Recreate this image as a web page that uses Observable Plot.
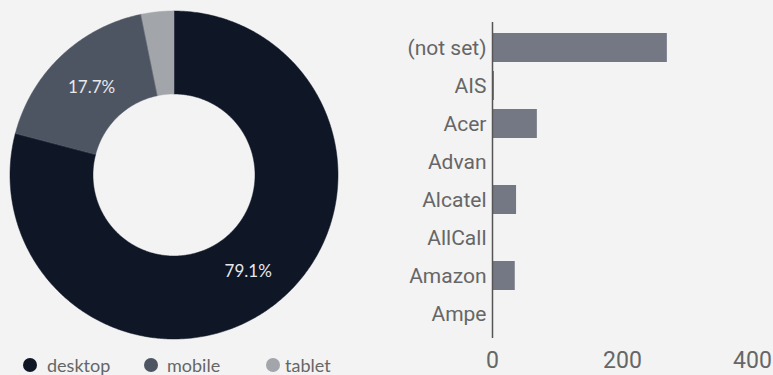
<!DOCTYPE html>
<html>
<head>
<meta charset="utf-8">
<script src="https://cdn.jsdelivr.net/npm/d3@7"></script>
<script src="https://cdn.jsdelivr.net/npm/@observablehq/plot@0.6"></script>
<style>
  html, body { margin: 0; padding: 0; background: #f3f3f3; width: 773px; height: 375px; overflow: hidden; }
  #donut { position: absolute; left: 0; top: 0; }
  #bars { position: absolute; left: 380px; top: 0; }
  #legend { position: absolute; left: 0; top: 355px; font-family: Lato, "Open Sans", sans-serif; font-size: 18px; color: #666; }
  .item { position: absolute; top: 0; white-space: nowrap; line-height: 20px; }
  .dot { position: absolute; top: 3px; width: 14px; height: 14px; border-radius: 50%; }
</style>
</head>
<body>
<div id="donut"></div>
<div id="bars"></div>
<div id="legend"></div>
<script>
// Donut data
const devices = ["desktop", "mobile", "tablet"];
const deviceShares = [79.1, 17.7, 3.2];
const deviceColors = ["#0f1626", "#4e5562", "#a2a5aa"];
const labelText = ["79.1%", "17.7%", ""];

// Bar data
const brands = ["(not set)", "AIS", "Acer", "Advan", "Alcatel", "AllCall", "Amazon", "Ampe"];
const brandValues = [269, 3, 69, 0, 37, 0, 35, 0];
const xTicks = [0, 200, 400];

// ---- Donut ----
const inner = 0.494;
const pie = d3.pie().sort(null).value(d => d.share)(devices.map((d, i) => ({device: d, share: deviceShares[i], i})));
const arcPts = [];
const labels = [];
pie.forEach(p => {
  const n = Math.max(2, Math.ceil((p.endAngle - p.startAngle) / 0.01));
  for (let k = 0; k <= n; k++) {
    const a = p.startAngle + (p.endAngle - p.startAngle) * k / n;
    arcPts.push({device: p.data.device, ox: Math.sin(a), oy: Math.cos(a), ix: inner * Math.sin(a), iy: inner * Math.cos(a)});
  }
  const m = (p.startAngle + p.endAngle) / 2;
  const r = (1 + inner) / 2 * 0.985;
  labels.push({text: labelText[p.data.i], x: r * Math.sin(m), y: r * Math.cos(m)});
});

const donut = Plot.plot({
  width: 348, height: 350,
  marginLeft: 10, marginRight: 10, marginTop: 11, marginBottom: 11,
  style: {background: "transparent"},
  x: {domain: [-1, 1], axis: null},
  y: {domain: [-1, 1], axis: null},
  color: {domain: devices, range: deviceColors},
  marks: [
    Plot.area(arcPts, {x1: "ox", y1: "oy", x2: "ix", y2: "iy", z: "device", fill: "device", stroke: "device", strokeWidth: 0.5}),
    Plot.text(labels, {x: "x", y: "y", text: "text", fill: "#e6e8ec", fontSize: 17, fontFamily: "Lato, 'Open Sans', sans-serif"})
  ]
});
document.getElementById("donut").appendChild(donut);

// Legend
const legendDotX = [23, 144, 266];
const legendTextX = [47, 167, 285];
const legend = document.getElementById("legend");
devices.forEach((d, i) => {
  const dot = document.createElement("span");
  dot.className = "dot";
  dot.style.left = legendDotX[i] + "px";
  dot.style.background = deviceColors[i];
  legend.appendChild(dot);
  const t = document.createElement("span");
  t.className = "item";
  t.style.left = legendTextX[i] + "px";
  t.textContent = d;
  legend.appendChild(t);
});

// ---- Bars ----
const barData = brands.map((b, i) => ({brand: b, value: brandValues[i]}));
const bars = Plot.plot({
  width: 393, height: 375,
  marginLeft: 112, marginRight: 21, marginTop: 22, marginBottom: 37,
  style: {background: "transparent", fontFamily: "Roboto, sans-serif", color: "#666"},
  x: {domain: [0, 400], ticks: xTicks, label: null},
  y: {domain: brands, padding: 0.24, label: null},
  marks: [
    Plot.gridX(xTicks.filter(d => d > 0), {stroke: "#e2e2e2", strokeOpacity: 1, y1: 18, y2: 338}),
    Plot.barX(barData, {x: "value", y: "brand", fill: "#747884"}),
    Plot.axisY({tickSize: 0, tickPadding: 6, fontSize: 21, fill: "#666"}),
    Plot.axisX({ticks: xTicks, tickSize: 0, tickPadding: 13, fontSize: 23, fill: "#666"}),
    Plot.ruleX([0], {stroke: "#555", strokeWidth: 1.5})
  ]
});
document.getElementById("bars").appendChild(bars);
</script>
</body>
</html>
